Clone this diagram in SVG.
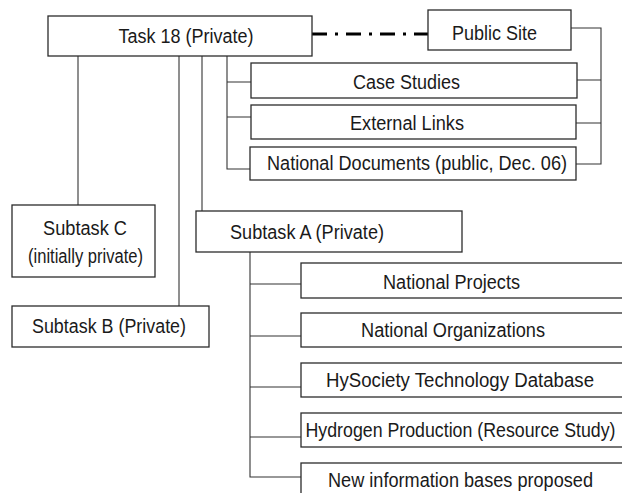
<svg xmlns="http://www.w3.org/2000/svg" width="622" height="493" viewBox="0 0 622 493">
  <style>
    .box { fill: #ffffff; stroke: #2b2b2b; stroke-width: 1.3; }
    .wire { fill: none; stroke: #333333; stroke-width: 1.1; }
    .link { fill: none; stroke: #000000; stroke-width: 3; stroke-dasharray: 15 8 3 8; }
    text { font-family: "Liberation Sans", Arial, sans-serif; font-size: 20px; fill: #1a1a1a; text-anchor: middle; }
  </style>
  <rect width="622" height="493" fill="#ffffff"/>

  <!-- connectors -->
  <g id="connectors">
    <!-- task 18 to its subtasks -->
    <path class="wire" d="M78 56 V205"/>
    <path class="wire" d="M179 56 V306"/>
    <path class="wire" d="M202 56 V211"/>
    <!-- task 18 to the public sections -->
    <path class="wire" d="M227 56 V169 H250 M227 82 H251 M227 117 H251"/>
    <!-- public site bracket -->
    <path class="wire" d="M571 28 H601 V164 H576 M577 80 H601 M576 123 H601"/>
    <!-- private / public link -->
    <path class="link" d="M312 34 H428"/>
    <!-- subtask A to its information bases -->
    <path class="wire" d="M250 252 V477 H301 M250 284 H301 M250 336 H301 M250 387 H301 M250 437 H301"/>
  </g>

  <g id="task18">
    <rect class="box" x="48" y="16" width="264" height="40"/>
    <text x="186" y="43" textLength="135" lengthAdjust="spacingAndGlyphs">Task 18 (Private)</text>
  </g>

  <g id="public-site">
    <rect class="box" x="428" y="10" width="143" height="40"/>
    <text x="494.5" y="39.5" textLength="85" lengthAdjust="spacingAndGlyphs">Public Site</text>
  </g>

  <g id="case-studies">
    <rect class="box" x="251" y="63" width="326" height="35"/>
    <text x="406.5" y="88.5" textLength="107" lengthAdjust="spacingAndGlyphs">Case Studies</text>
  </g>

  <g id="external-links">
    <rect class="box" x="251" y="105" width="325" height="34"/>
    <text x="407" y="129.5" textLength="114" lengthAdjust="spacingAndGlyphs">External Links</text>
  </g>

  <g id="national-documents">
    <rect class="box" x="250" y="147" width="326" height="33"/>
    <text x="417" y="169.5" textLength="300" lengthAdjust="spacingAndGlyphs">National Documents (public, Dec. 06)</text>
  </g>

  <g id="subtask-c">
    <rect class="box" x="12" y="205" width="143" height="72"/>
    <text x="85" y="235" textLength="84" lengthAdjust="spacingAndGlyphs">Subtask C</text>
    <text x="85.5" y="263" textLength="115" lengthAdjust="spacingAndGlyphs">(initially private)</text>
  </g>

  <g id="subtask-a">
    <rect class="box" x="196" y="211" width="266" height="41"/>
    <text x="307" y="238.5" textLength="154" lengthAdjust="spacingAndGlyphs">Subtask A (Private)</text>
  </g>

  <g id="subtask-b">
    <rect class="box" x="12" y="306" width="197" height="41"/>
    <text x="109" y="333" textLength="154" lengthAdjust="spacingAndGlyphs">Subtask B (Private)</text>
  </g>

  <g id="national-projects">
    <rect class="box" x="301" y="263" width="330" height="35"/>
    <text x="451.5" y="288.5" textLength="137" lengthAdjust="spacingAndGlyphs">National Projects</text>
  </g>

  <g id="national-organizations">
    <rect class="box" x="301" y="313" width="330" height="34"/>
    <text x="453" y="337" textLength="184" lengthAdjust="spacingAndGlyphs">National Organizations</text>
  </g>

  <g id="hysociety-database">
    <rect class="box" x="301" y="363" width="330" height="34"/>
    <text x="460" y="387" textLength="268" lengthAdjust="spacingAndGlyphs">HySociety Technology Database</text>
  </g>

  <g id="hydrogen-production">
    <rect class="box" x="301" y="413" width="330" height="34"/>
    <text x="460.5" y="437" textLength="310" lengthAdjust="spacingAndGlyphs">Hydrogen Production (Resource Study)</text>
  </g>

  <g id="new-information-bases">
    <rect class="box" x="301" y="463" width="330" height="40"/>
    <text x="460.5" y="487" textLength="265" lengthAdjust="spacingAndGlyphs">New information bases proposed</text>
  </g>
</svg>
